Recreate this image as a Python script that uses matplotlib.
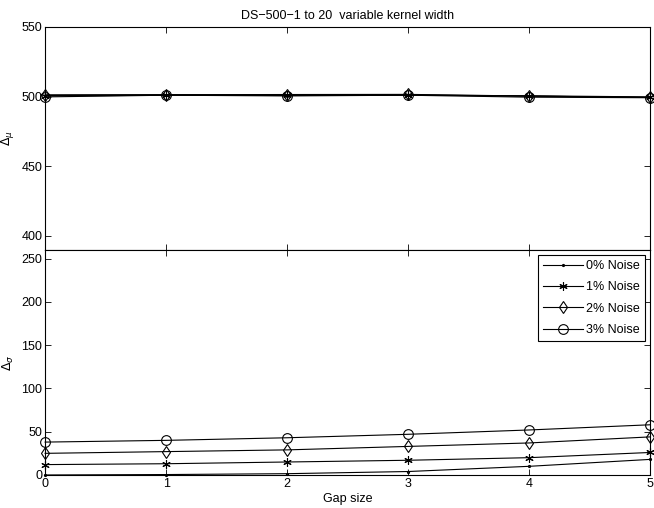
import matplotlib
matplotlib.use("Agg")
import matplotlib.pyplot as plt

# --------------------------
# DATA
# --------------------------
gap = [0, 1, 2, 3, 4, 5]
labels = ["0% Noise", "1% Noise", "2% Noise", "3% Noise"]
markers = [".", (6, 2, 0), "d", "o"]

mu_0 = [500.5, 501.0, 500.8, 501.0, 500.6, 499.8]
mu_1 = [500.8, 501.2, 501.0, 501.2, 500.3, 499.5]
mu_2 = [501.3, 501.4, 501.5, 501.6, 500.4, 499.4]
mu_3 = [499.8, 501.0, 500.5, 501.0, 499.6, 499.2]

sigma_0 = [0, 0.5, 1.5, 4, 10, 18]
sigma_1 = [12, 13, 15, 17, 20, 26]
sigma_2 = [25, 27, 29, 33, 37, 44]
sigma_3 = [38, 40, 43, 47, 52, 58]

plt.rcParams["font.family"] = ["Liberation Sans", "DejaVu Sans"]
plt.rcParams["font.size"] = 9

fig = plt.figure(figsize=(6.54, 5.08), dpi=100)
ax1 = fig.add_axes([0.069, 0.508, 0.925, 0.439])
ax2 = fig.add_axes([0.069, 0.065, 0.925, 0.443])

sizes = [3, 6, 6.5, 7]

for ys, m, s in zip([mu_0, mu_1, mu_2, mu_3], markers, sizes):
    ax1.plot(gap, ys, color="black", marker=m, lw=0.8, ms=s, mew=0.8,
             mfc="none", mec="black", clip_on=False)

for ys, m, s, lab in zip([sigma_0, sigma_1, sigma_2, sigma_3], markers, sizes, labels):
    ax2.plot(gap, ys, color="black", marker=m, lw=0.8, ms=s, mew=0.8,
             mfc="none", mec="black", label=lab, clip_on=False)

ax1.set_xlim(0, 5)
ax1.set_ylim(390, 550)
ax1.set_yticks([400, 450, 500, 550])
ax1.set_xticks(gap)
ax1.set_xticklabels([])
ax1.set_ylabel(r"$\Delta_\mu$")
ax1.set_title("DS\u2212500\u22121 to 20  variable kernel width", fontsize=9)

ax2.set_xlim(0, 5)
ax2.set_ylim(0, 260)
ax2.set_yticks([0, 50, 100, 150, 200, 250])
ax2.set_xticks(gap)
ax2.set_xlabel("Gap size", labelpad=2)
ax2.set_ylabel(r"$\Delta_\sigma$")

for ax in (ax1, ax2):
    ax.tick_params(direction="in", top=True, right=True, length=4, width=0.6, pad=2)
    for s in ax.spines.values():
        s.set_linewidth(0.8)

leg = ax2.legend(loc="upper right", fancybox=False, edgecolor="black",
                 framealpha=1, handlelength=3.2, borderpad=0.4, labelspacing=0.75,
                 borderaxespad=0.4, handletextpad=0.3)
leg.get_frame().set_linewidth(0.8)

fig.savefig("out.png", dpi=100)
